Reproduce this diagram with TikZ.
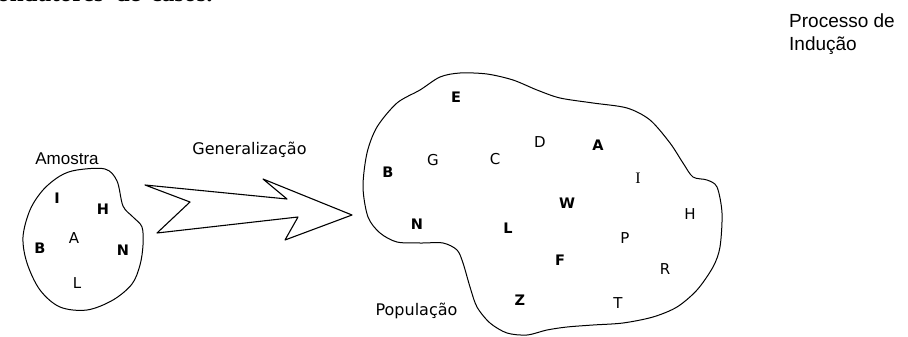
\documentclass[tikz,border=0pt]{standalone}
\usepackage{fontspec}
\setmainfont{DejaVu Sans}
\newfontfamily\arialf{Liberation Sans}
\newfontfamily\timesf{Liberation Serif}
\begin{document}
\begin{tikzpicture}[x=1pt,y=-1pt,
  blob/.style={draw=black, line width=1pt, line join=round},
  letter/.style={font=\fontsize{15}{16}\selectfont, inner sep=0pt},
  bletter/.style={font=\bfseries\fontsize{14.5}{16}\selectfont, inner sep=0pt},
  dlabel/.style={font=\fontsize{16}{18}\selectfont, inner sep=0pt, anchor=base},
  alabel/.style={font=\arialf\fontsize{17}{19}\selectfont, inner sep=0pt}]
\useasboundingbox (0,0) rectangle (908,337);
\begin{scope}
\clip (0,0) rectangle (908,337);
\node[anchor=base west, inner sep=0pt, font=\timesf\bfseries\fontsize{25}{25}\selectfont] (top) at (-14,2) {condutores\hspace{12pt}de\hspace{10pt}casos.};
\end{scope}
% title
\node[alabel, font=\arialf\fontsize{19}{21}\selectfont, anchor=base west] (t1) at (789,28) {Processo de};
\node[alabel, font=\arialf\fontsize{19}{21}\selectfont, anchor=base west] (t2) at (789,51) {Indução};
% small blob
\draw[blob] plot[smooth cycle, tension=0.55] coordinates {
 (77,170) (105,169) (117,181) (123,206) (133,217) (142,227) (143,245) (140,265)
 (132,284) (113,300) (87,310) (60,307) (40,290) (27,263) (23,237) (30,210) (43,190) (60,176)};
\node[alabel, anchor=base] (amostra) at (67,164) {Amostra};
\node[bletter] (sI) at (57,198) {I};
\node[bletter] (sH) at (103,209) {H};
\node[letter] (sA) at (74,238) {A};
\node[bletter] (sB) at (40,248) {B};
\node[bletter] (sN) at (123,250) {N};
\node[letter] (sL) at (77,283) {L};
% arrow
\draw[blob, line width=1.1pt] (145,185) -- (287,199) -- (263,179) -- (352,215) -- (285,240)
  -- (298,217) -- (157,233) -- (190,202) -- cycle;
\node[dlabel] (gen) at (249.5,154) {Generalização};
% big blob
\draw[blob] plot[smooth cycle, tension=0.5] coordinates {
 (363,187) (367,153) (377,127) (397,103) (420,90) (440,77) (460,73) (487,74) (513,80)
 (537,90) (560,98) (593,103) (627,108) (650,120) (670,143) (683,163) (693,177) (707,180)
 (717,187) (722,213) (720,247) (713,267) (697,290) (677,307) (653,317) (623,323) (593,325)
 (567,327) (547,330) (527,335) (507,333) (490,323) (477,307) (470,287) (463,263) (457,250)
 (443,243) (420,243) (397,242) (380,233) (368,217)};
\node[dlabel] (pop) at (416.5,315) {População};
\node[bletter] (bE) at (456,97) {E};
\node[letter] (bD) at (540,142) {D};
\node[bletter] (bA) at (598,145) {A};
\node[letter] (bG) at (433,160) {G};
\node[letter] (bC) at (495,159) {C};
\node[bletter] (bB) at (388,172) {B};
\node[letter, font=\timesf\fontsize{16}{16}\selectfont] (bI) at (638,178) {I};
\node[bletter] (bW) at (567,203) {W};
\node[letter] (bH) at (690,214) {H};
\node[bletter] (bN) at (417,224) {N};
\node[bletter] (bL) at (508,228) {L};
\node[letter] (bP) at (625,238) {P};
\node[bletter] (bF) at (560,260) {F};
\node[letter] (bR) at (665,269) {R};
\node[bletter] (bZ) at (520,300) {Z};
\node[letter] (bT) at (618,303) {T};
\end{tikzpicture}
\end{document}
